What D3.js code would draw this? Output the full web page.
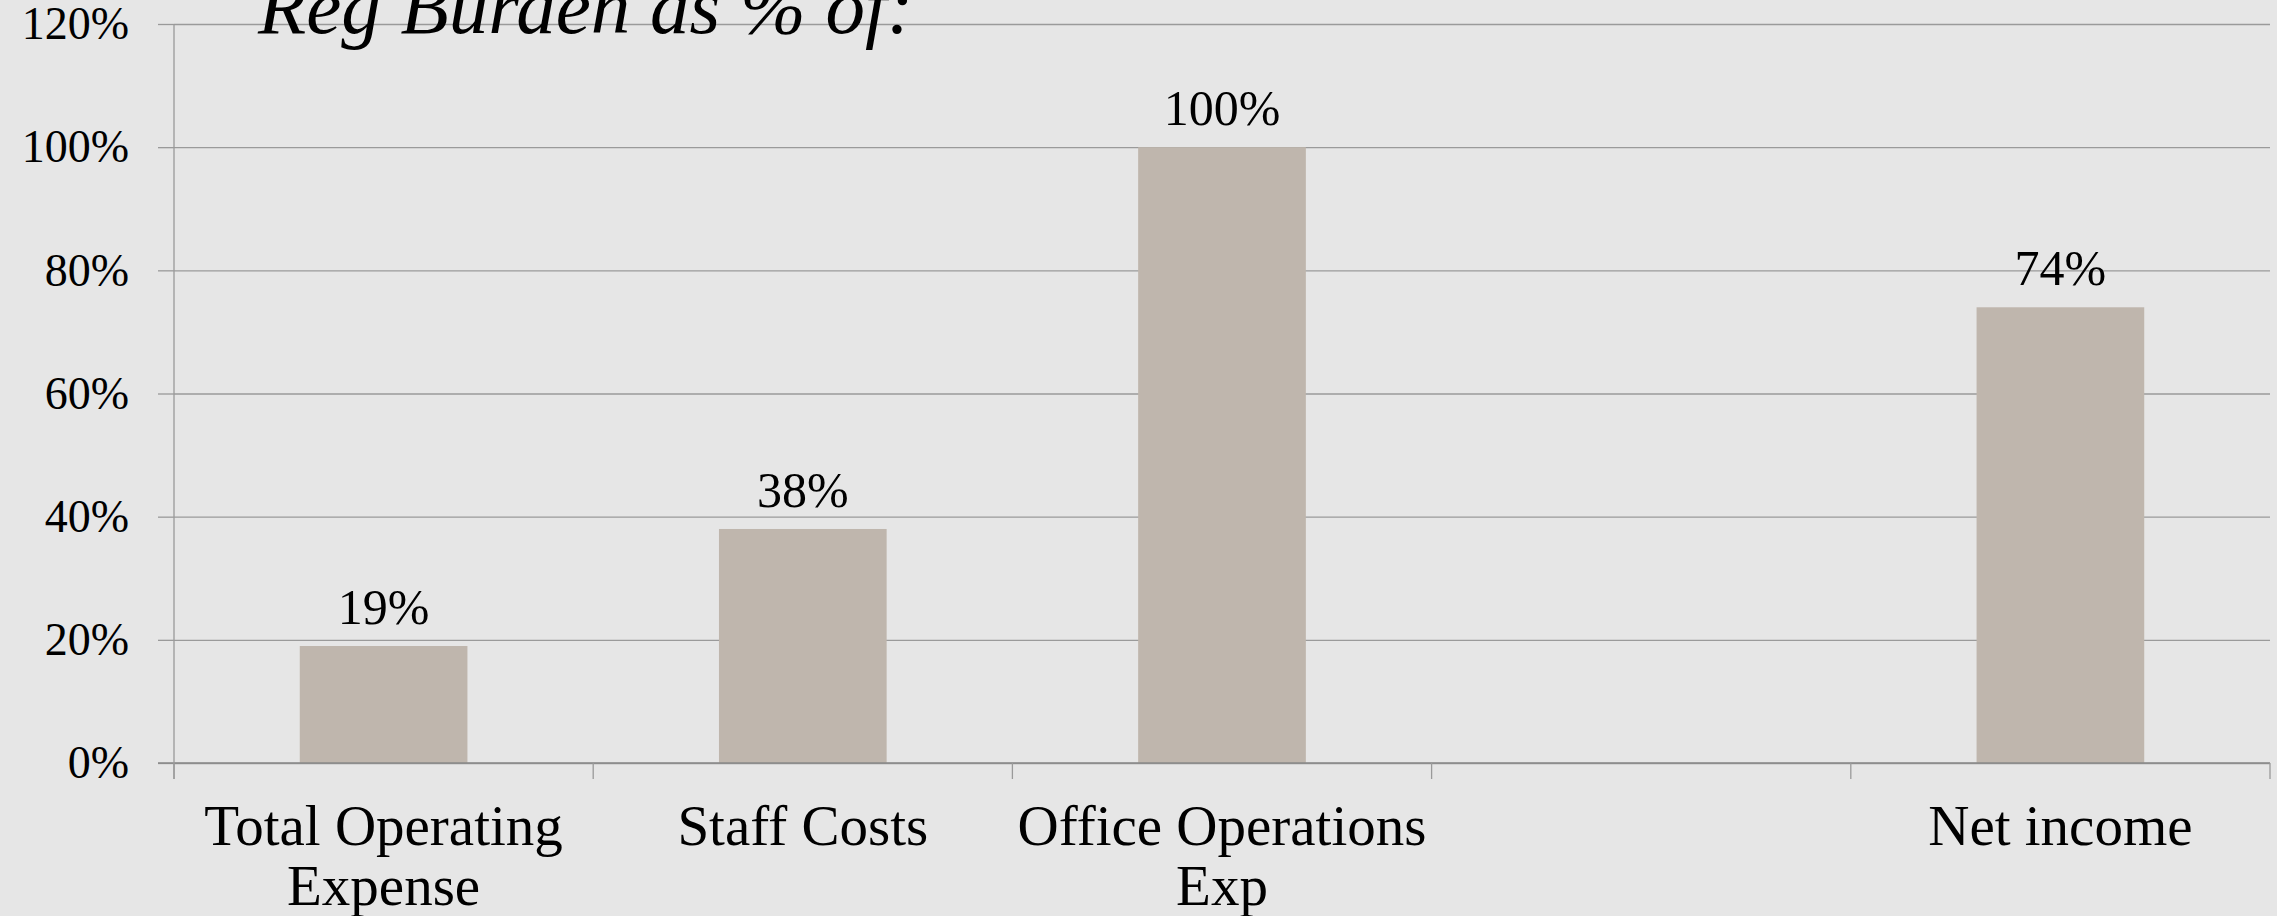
<!DOCTYPE html>
<html><head><meta charset="utf-8">
<script src="https://cdn.jsdelivr.net/npm/d3@7/dist/d3.min.js"></script>
<style>
html,body{margin:0;padding:0;background:#e6e6e6;}
svg{display:block;}
text{font-family:"Liberation Serif","DejaVu Serif",serif;fill:#000;}
</style></head><body>
<script>
const categories = ["Total Operating|Expense", "Staff Costs", "Office Operations|Exp", " ", "Net income"];
const values = [0.19, 0.38, 1.00, null, 0.74];
const valueLabels = ["19%", "38%", "100%", "", "74%"];
const yTicks = [0, 0.2, 0.4, 0.6, 0.8, 1.0, 1.2];
const title = "Reg Burden as % of:";

const W = 2277, H = 916;
const m = {left:174, right:7, top:24, bottom:153};
const svg = d3.select("body").append("svg").attr("width", W).attr("height", H);
svg.append("rect").attr("width", W).attr("height", H).attr("fill", "#e6e6e6");

const x = d3.scaleBand().domain(categories).range([m.left, W - m.right]).paddingInner(0.6).paddingOuter(0.3);
const xb = d3.scaleBand().domain(categories).range([m.left, W - m.right]).padding(0);
const y = d3.scaleLinear().domain([0, 1.2]).range([H - m.bottom, m.top]);

// gridlines
const grid = svg.append("g").attr("transform", `translate(${m.left},0)`)
  .call(d3.axisLeft(y).tickValues(yTicks).tickSize(-(W - m.right - m.left)).tickFormat(""));
grid.select(".domain").remove();
grid.selectAll("line").attr("stroke", "#9a9a9a").attr("stroke-width", 1.3);

// y ticks (left extension) and labels
const ya = svg.append("g").attr("transform", `translate(${m.left},0)`)
  .call(d3.axisLeft(y).tickValues(yTicks).tickSize(16).tickPadding(29).tickFormat(d3.format(".0%")));
ya.select(".domain").remove();
ya.selectAll("line").attr("stroke", "#9a9a9a").attr("stroke-width", 1.3);
ya.selectAll("text").style("font-size", "46px").attr("fill", "#000");

// bars
svg.append("g").selectAll("rect").data(categories.map((c,i)=>({c, v: values[i]})).filter(d=>d.v!=null))
  .join("rect")
  .attr("x", d => x(d.c)).attr("width", x.bandwidth())
  .attr("y", d => y(d.v)).attr("height", d => y(0) - y(d.v))
  .attr("fill", "#bfb6ad");

// value labels
svg.append("g").selectAll("text").data(categories.map((c,i)=>({c, v: values[i], l: valueLabels[i]})).filter(d=>d.v!=null))
  .join("text")
  .attr("x", d => x(d.c) + x.bandwidth()/2).attr("y", d => y(d.v) - 22)
  .attr("text-anchor", "middle").style("font-size", "50px").text(d => d.l);

// x axis baseline
svg.append("line").attr("x1", m.left - 16).attr("x2", W - m.right).attr("y1", y(0)).attr("y2", y(0))
  .attr("stroke", "#888").attr("stroke-width", 1.6);
// y axis line
svg.append("line").attr("x1", m.left).attr("x2", m.left).attr("y1", y(1.2)).attr("y2", y(0) + 16)
  .attr("stroke", "#9a9a9a").attr("stroke-width", 1.3);
// category boundary ticks
const bounds = categories.map(c => xb(c)).concat([W - m.right]);
svg.append("g").selectAll("line").data(bounds).join("line")
  .attr("x1", d => d).attr("x2", d => d).attr("y1", y(0)).attr("y2", y(0) + 16)
  .attr("stroke", "#9a9a9a").attr("stroke-width", 1.3);

// category labels
const cl = svg.append("g").selectAll("text").data(categories).join("text")
  .attr("x", d => xb(d) + xb.bandwidth()/2).attr("y", y(0) + 82)
  .attr("text-anchor", "middle").style("font-size", "57px");
cl.each(function(d){
  const parts = d.split("|");
  d3.select(this).selectAll("tspan").data(parts).join("tspan")
    .attr("x", xb(d) + xb.bandwidth()/2).attr("dy", (p,i) => i ? 60 : 0).text(p => p);
});

// title
svg.append("text").attr("x", 258).attr("y", 33).style("font-size", "79px").style("font-style", "italic").text(title);
</script>
</body></html>
